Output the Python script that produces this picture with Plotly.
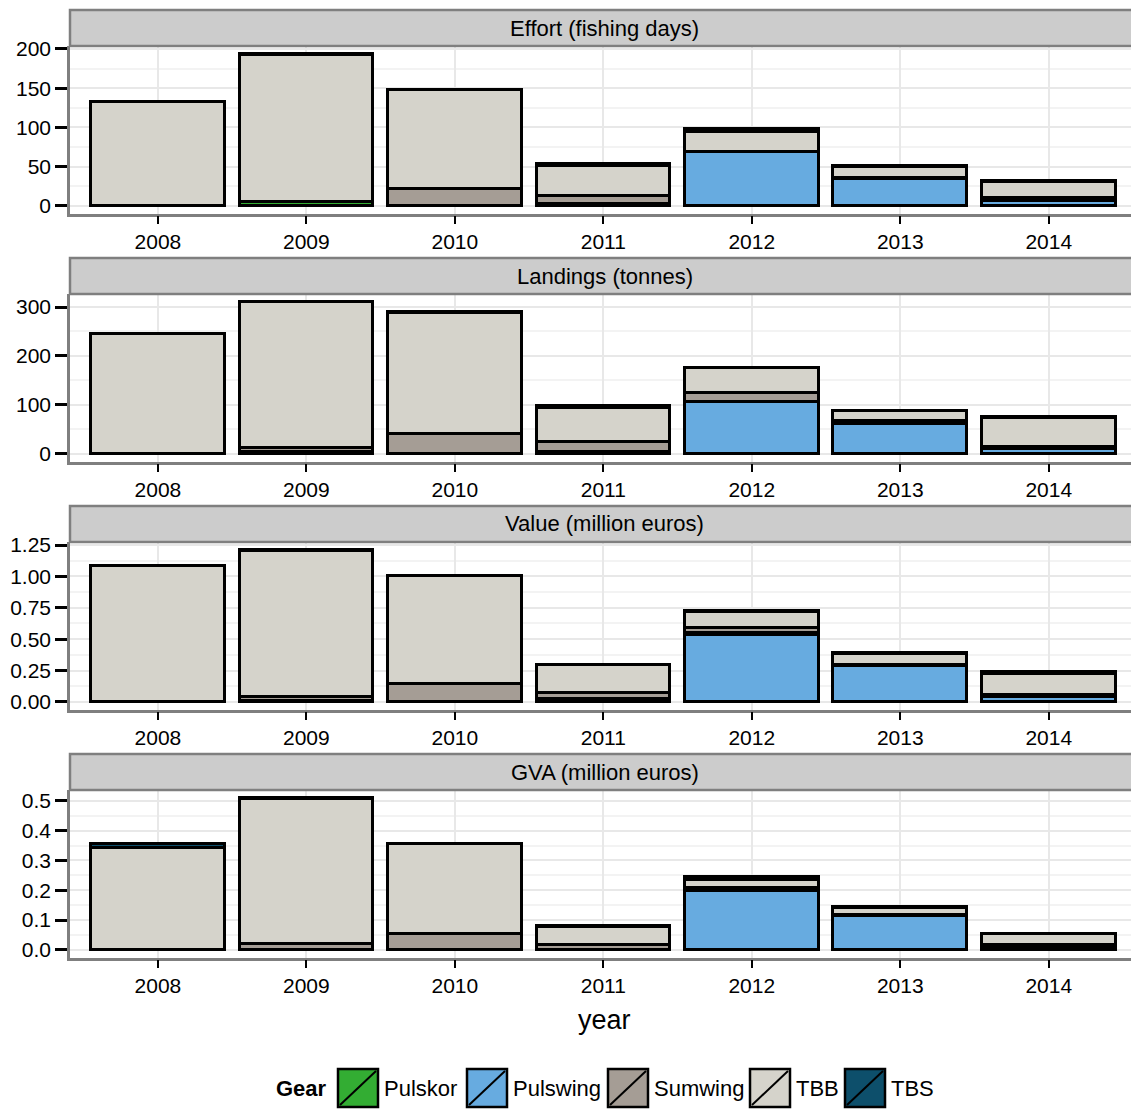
import plotly.graph_objects as go

W, H = 1131, 1109

# ---- data -------------------------------------------------------------
years = ["2008", "2009", "2010", "2011", "2012", "2013", "2014"]

gears = ["Pulskor", "Pulswing", "Sumwing", "TBB", "TBS"]
gear_colors = ["#33AD33", "#67ABE0", "#A59D95", "#D5D3CB", "#0D4F6B"]
# bottom-to-top order of the stacked segments
stack_order = ["Pulswing", "Pulskor", "Sumwing", "TBB", "TBS"]

# Effort (fishing days)
effort_pulswing = [0, 0, 0, 0, 69, 34, 6]
effort_pulskor = [0, 5, 0, 2, 0, 2, 4]
effort_sumwing = [0, 0, 22, 11, 0, 0, 0]
effort_tbb = [132, 187, 126, 38, 25, 14, 20]
effort_tbs = [0, 2, 0, 2, 4, 1, 2]

# Landings (tonnes)
landings_pulswing = [0, 0, 0, 0, 107, 61, 9]
landings_pulskor = [0, 4, 0, 4, 0, 6, 5]
landings_sumwing = [0, 9, 40, 21, 18, 0, 0]
landings_tbb = [244, 298, 248, 69, 51, 21, 59]
landings_tbs = [0, 0, 2, 3, 0, 0, 2]

# Value (million euros)
value_pulswing = [0, 0, 0, 0, 0.534, 0.29, 0.036]
value_pulskor = [0, 0.005, 0, 0.02, 0.015, 0.008, 0.017]
value_sumwing = [0, 0.035, 0.14, 0.05, 0.039, 0, 0]
value_tbb = [1.08, 1.162, 0.86, 0.228, 0.131, 0.086, 0.173]
value_tbs = [0, 0.012, 0, 0, 0.007, 0.007, 0.012]

# GVA (million euros)
gva_pulswing = [0, 0, 0, 0, 0.197, 0.113, 0.008]
gva_pulskor = [0, 0, 0, 0, 0.012, 0.005, 0.010]
gva_sumwing = [0, 0.02, 0.055, 0.016, 0, 0, 0]
gva_tbb = [0.343, 0.486, 0.302, 0.062, 0.024, 0.021, 0.037]
gva_tbs = [0.011, 0.005, 0, 0.002, 0.012, 0.005, 0]

panel_titles = ["Effort (fishing days)", "Landings (tonnes)",
                "Value (million euros)", "GVA (million euros)"]
panel_series = [
    {"Pulskor": effort_pulskor, "Pulswing": effort_pulswing, "Sumwing": effort_sumwing,
     "TBB": effort_tbb, "TBS": effort_tbs},
    {"Pulskor": landings_pulskor, "Pulswing": landings_pulswing, "Sumwing": landings_sumwing,
     "TBB": landings_tbb, "TBS": landings_tbs},
    {"Pulskor": value_pulskor, "Pulswing": value_pulswing, "Sumwing": value_sumwing,
     "TBB": value_tbb, "TBS": value_tbs},
    {"Pulskor": gva_pulskor, "Pulswing": gva_pulswing, "Sumwing": gva_sumwing,
     "TBB": gva_tbb, "TBS": gva_tbs},
]
panel_dtick = [50, 100, 0.25, 0.1]
panel_format = ["d", "d", ".2f", ".1f"]

# ---- layout geometry (pixels) -------------------------------------------
FONT = "Liberation Sans, Arial, sans-serif"
plot_left = 70
panel_tops = [46, 294, 542, 790]
panel_h = 167.5
strip_h = 36
px_per_cat = (W - plot_left) / 7.146


def px(x):
    return x / W


def py(y):
    return 1 - y / H


color_of = dict(zip(gears, gear_colors))

fig = go.Figure()
layout_axes = {}
shapes = []
annotations = []

for i, (title, series) in enumerate(zip(panel_titles, panel_series)):
    n = "" if i == 0 else str(i + 1)
    top = panel_tops[i]
    bottom = top + panel_h

    for g in stack_order:
        fig.add_trace(go.Bar(
            x=years, y=series[g], name=g, width=0.9,
            marker=dict(color=color_of[g], line=dict(color="black", width=2.8)),
            xaxis="x" + n, yaxis="y" + n, showlegend=False,
            hovertemplate=g + " %{x}: %{y}<extra></extra>",
        ))

    totals = [sum(vals) for vals in zip(*series.values())]
    m = max(totals)

    layout_axes["xaxis" + n] = dict(
        domain=[px(plot_left), 1], anchor="y" + n, type="category",
        categoryorder="array", categoryarray=years,
        range=[-0.592, 6.554], automargin=False,
        showgrid=True, gridcolor="#E8E8E8", gridwidth=2,
        ticks="outside", ticklen=8, tickwidth=2, tickcolor="black",
        showline=True, linecolor="#7F7F7F", linewidth=2.5,
        tickfont=dict(family=FONT, size=21, color="black"),
        ticklabelstandoff=0, zeroline=False, fixedrange=True,
    )
    layout_axes["yaxis" + n] = dict(
        domain=[py(bottom), py(top)], anchor="x" + n,
        range=[-0.05 * m, 1.05 * m], dtick=panel_dtick[i], tick0=0,
        tickformat=panel_format[i], automargin=False,
        showgrid=True, gridcolor="#E8E8E8", gridwidth=2,
        minor=dict(dtick=panel_dtick[i] / 2, showgrid=True,
                   gridcolor="#F3F3F3", gridwidth=1.5),
        ticks="outside", ticklen=12, tickwidth=2.5, tickcolor="black",
        showline=True, linecolor="#7F7F7F", linewidth=2.5,
        tickfont=dict(family=FONT, size=21, color="black"),
        ticklabelstandoff=0, zeroline=False, fixedrange=True,
    )

    # facet strip
    shapes.append(dict(
        type="rect", xref="paper", yref="paper",
        x0=px(plot_left), x1=1.02, y0=py(top), y1=py(top - strip_h),
        fillcolor="#CCCCCC", line=dict(color="#7F7F7F", width=2.5), layer="above",
    ))
    annotations.append(dict(
        text=title, xref="paper", yref="paper",
        x=px(plot_left + 3.6 * px_per_cat), y=py(top - strip_h / 2),
        showarrow=False, xanchor="center", yanchor="middle",
        font=dict(family=FONT, size=22, color="black"),
    ))

# x-axis title
annotations.append(dict(
    text="year", xref="paper", yref="paper",
    x=px(plot_left + 3.6 * px_per_cat), y=py(1020),
    showarrow=False, xanchor="center", yanchor="middle",
    font=dict(family=FONT, size=27, color="black"),
))

# ---- legend (drawn with shapes so the keys carry the diagonal stroke) ------
leg_y0, leg_y1 = 1069, 1107
key_w = 40
key_x = [338, 467, 608, 750, 845]
annotations.append(dict(
    text="<b>Gear</b>", xref="paper", yref="paper",
    x=px(329), y=py((leg_y0 + leg_y1) / 2), showarrow=False,
    xanchor="right", yanchor="middle",
    font=dict(family=FONT, size=22, color="black"),
))
for g, c, x0 in zip(gears, gear_colors, key_x):
    shapes.append(dict(
        type="rect", xref="paper", yref="paper",
        x0=px(x0), x1=px(x0 + key_w), y0=py(leg_y1), y1=py(leg_y0),
        fillcolor=c, line=dict(color="black", width=2.5), layer="above",
    ))
    shapes.append(dict(
        type="line", xref="paper", yref="paper",
        x0=px(x0 + 2), y0=py(leg_y1 - 2), x1=px(x0 + key_w - 2), y1=py(leg_y0 + 2),
        line=dict(color="black", width=2), layer="above",
    ))
    annotations.append(dict(
        text=g, xref="paper", yref="paper",
        x=px(x0 + key_w + 4), y=py((leg_y0 + leg_y1) / 2), showarrow=False,
        xanchor="left", yanchor="middle",
        font=dict(family=FONT, size=22, color="black"),
    ))

fig.update_layout(
    width=W, height=H,
    margin=dict(l=0, r=0, t=0, b=0, autoexpand=False),
    paper_bgcolor="white", plot_bgcolor="white",
    barmode="stack", bargap=0,
    shapes=shapes, annotations=annotations,
    font=dict(family=FONT, color="black"),
    **layout_axes,
)

fig.write_html("out.html", config={"displayModeBar": False})
